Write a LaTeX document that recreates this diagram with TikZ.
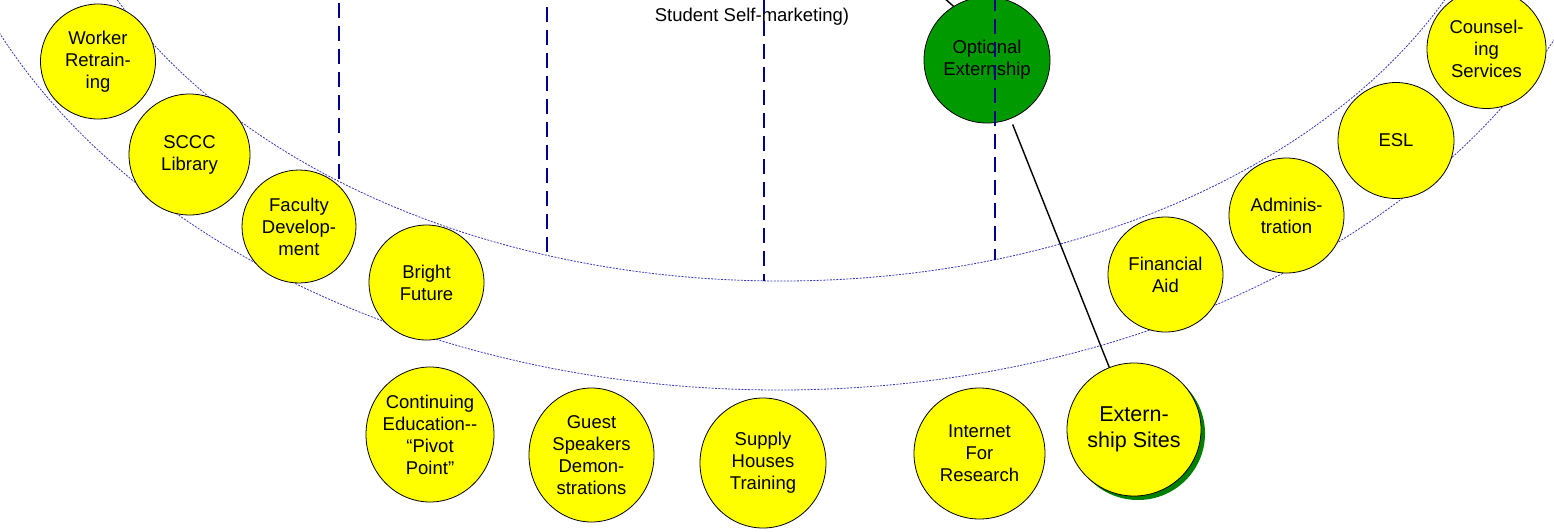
\documentclass[tikz,border=0pt]{standalone}
\usepackage{fontspec}
\setmainfont{Liberation Sans}
\usetikzlibrary{shapes.geometric,shadows}
\definecolor{bubyellow}{RGB}{255,255,0}
\definecolor{optgreen}{RGB}{0,153,0}
\definecolor{shadgreen}{RGB}{0,128,0}
\definecolor{arcblue}{RGB}{55,55,190}
\definecolor{dashnavy}{RGB}{0,0,140}
\begin{document}
\begin{tikzpicture}[x=1pt,y=-1pt,
  bub/.style 2 args={ellipse, draw=black, line width=0.8pt, fill=bubyellow,
    minimum width=#1pt, minimum height=#2pt, inner sep=0pt},
  txt/.style={font=\fontsize{18.5}{22}\selectfont, align=center, inner sep=0pt, text=black},
  bigtxt/.style={font=\fontsize{21.5}{26}\selectfont, align=center, inner sep=0pt, text=black},
  arcline/.style={arcblue, line width=0.8pt, dash pattern=on 2pt off 1.3pt},
  vdash/.style={dashnavy, line width=2pt, dash pattern=on 15pt off 8pt},
  conn/.style={black, line width=1.4pt}]
\useasboundingbox (0,0) rectangle (1554,531);
\begin{scope}
\clip (0,0) rectangle (1554,531);
% band arcs
\draw[arcline] (781,-219) ellipse [x radius=738, y radius=500];
\draw[arcline] (779,-219) ellipse [x radius=856, y radius=609];

% circles
\node[bub={115}{115}, label={[txt]center:Worker\\Retrain-\\ing}] (wr) at (98,61.5) {};
\node[bub={121}{121}, label={[txt]center:SCCC\\Library}] (lib) at (189.5,154.5) {};
\node[bub={114}{113}, label={[txt]center:Faculty\\Develop-\\ment}] (fac) at (299,226.5) {};
\node[bub={115}{115}, label={[txt]center:Bright\\Future}] (bf) at (426.5,282.5) {};
\node[bub={128}{135}, label={[txt]center:Continuing\\Education-{}-\\“Pivot\\Point”}] (ce) at (430,434.5) {};
\node[bub={125}{134}, label={[txt]center:Guest\\Speakers\\Demon-\\strations}] (gs) at (591.5,455) {};
\node[bub={126}{130}, label={[txt]center:Supply\\Houses\\Training}] (sh) at (763,463) {};
\node[bub={131}{131}, label={[txt]center:Internet\\For\\Research}] (ir) at (979.5,453.5) {};
\node[bub={134}{133}, drop shadow={shadow xshift=4pt, shadow yshift=-4pt, fill=shadgreen, opacity=1},
      label={[bigtxt]center:Extern-\\ship Sites}] (es) at (1134,429.5) {};
\node[bub={115}{115}, label={[txt]center:Financial\\Aid}] (fa) at (1165.5,274.5) {};
\node[bub={115}{115}, label={[txt]center:Adminis-\\tration}] (ad) at (1286.5,215.5) {};
\node[bub={116}{116}, label={[txt]center:ESL}] (esl) at (1396,140.5) {};
\node[bub={119}{119}, label={[txt]center:Counsel-\\ing\\Services}] (cs) at (1486.5,49) {};
\node[bub={126}{126}, fill=optgreen, label={[txt]center:Optional\\Externship}] (opt) at (987,60) {};

% top text
\node[txt, anchor=base] (ssm) at (752,21) {Student Self-marketing)};

% connectors
\coordinate (optin) at (933,-12);
\draw[conn] (optin) -- (opt.122.7);
\draw[conn, shorten <=6pt] (opt) -- (es);

% dashed verticals
\coordinate (d1t) at (339,3);   \coordinate (d1b) at (339,183.5);
\coordinate (d2t) at (547,7);   \coordinate (d2b) at (547,255.5);
\coordinate (d3t) at (764,-2);  \coordinate (d3b) at (764,281);
\coordinate (d4t) at (995,-4);  \coordinate (d4b) at (995,260);
\draw[vdash] (d1t) -- (d1b);
\draw[vdash] (d2t) -- (d2b);
\draw[vdash] (d3t) -- (d3b);
\draw[vdash] (d4t) -- (d4b);
\end{scope}
\end{tikzpicture}
\end{document}
